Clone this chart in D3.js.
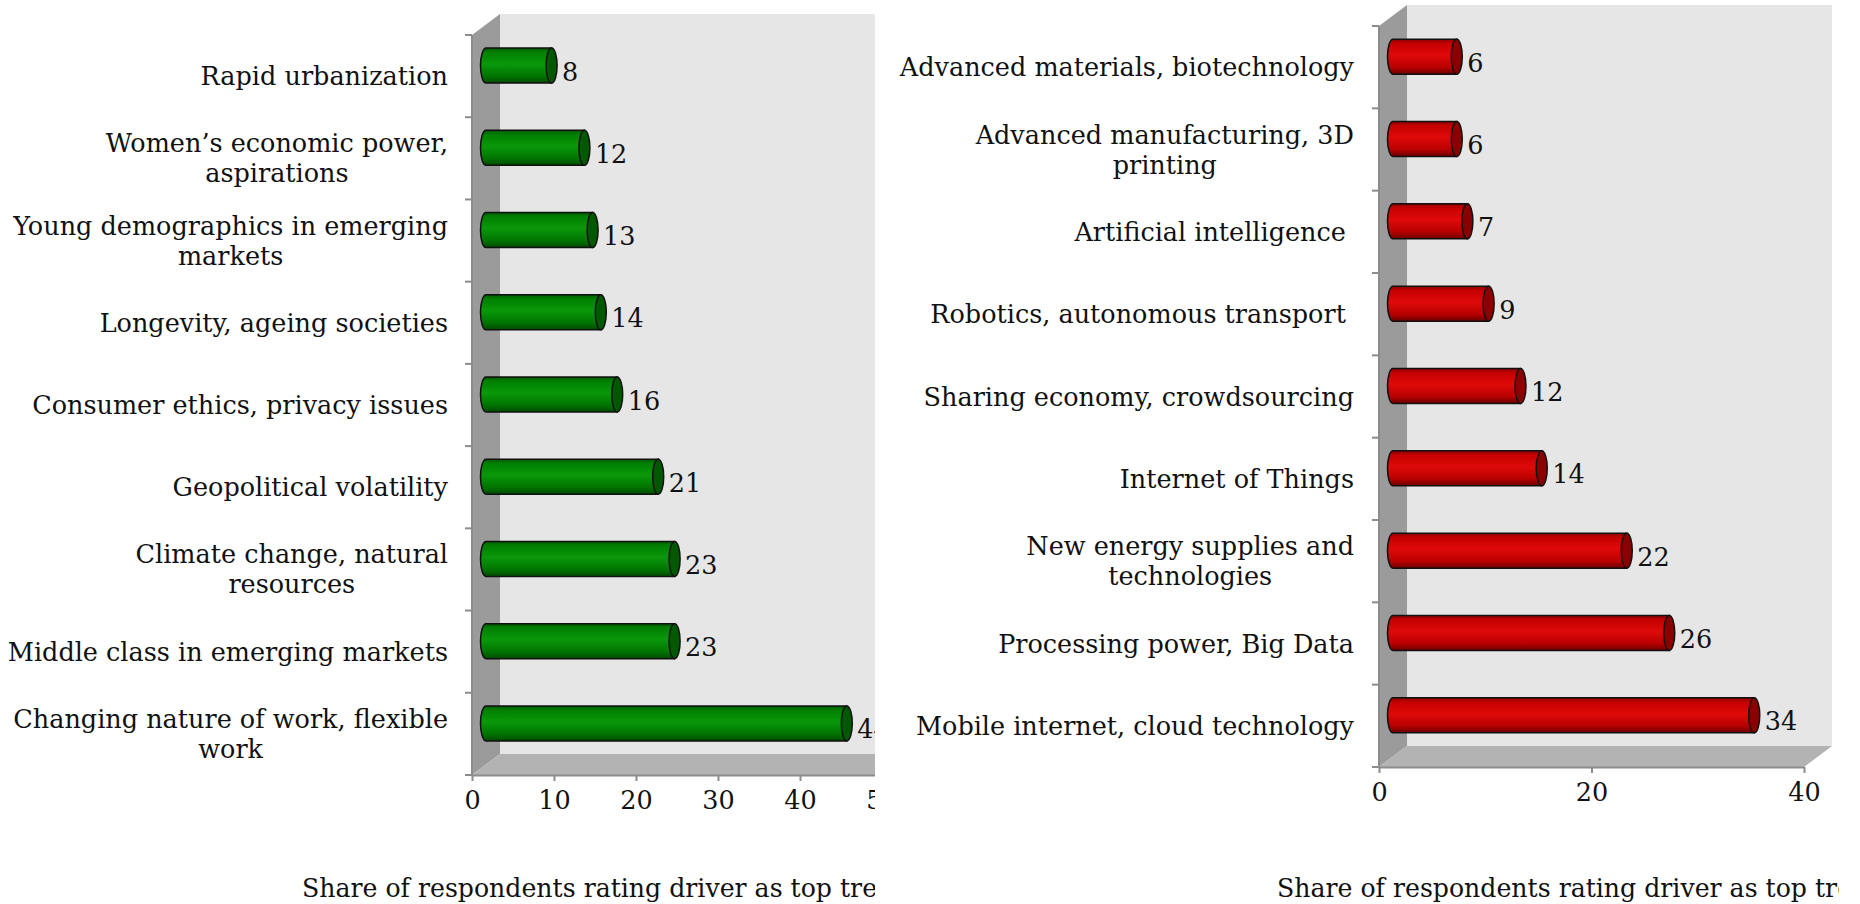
<!DOCTYPE html>
<html>
<head>
<meta charset="utf-8">
<script src="https://cdn.jsdelivr.net/npm/d3@7"></script>
<style>
  html, body { margin: 0; padding: 0; background: #ffffff; }
  svg { display: block; }
  text { font-family: "DejaVu Serif", serif; fill: #111; }
</style>
</head>
<body>
<svg id="chart" width="1860" height="904"></svg>
<script>
// ---------- data ----------
const leftCategories = [
  "Rapid urbanization",
  "Women’s economic power,\naspirations",
  "Young demographics in emerging\nmarkets",
  "Longevity, ageing societies",
  "Consumer ethics, privacy issues",
  "Geopolitical volatility",
  "Climate change, natural\nresources",
  "Middle class in emerging markets",
  "Changing nature of work, flexible\nwork"
];
const leftValues = [8, 12, 13, 14, 16, 21, 23, 23, 44];
const leftTicks = [0, 10, 20, 30, 40, 50];

const rightCategories = [
  "Advanced materials, biotechnology",
  "Advanced manufacturing, 3D\nprinting",
  "Artificial intelligence ",
  "Robotics, autonomous transport ",
  "Sharing economy, crowdsourcing",
  "Internet of Things",
  "New energy supplies and\ntechnologies",
  "Processing power, Big Data",
  "Mobile internet, cloud technology"
];
const rightValues = [6, 6, 7, 9, 12, 14, 22, 26, 34];
const rightTicks = [0, 20, 40];

const axisTitle = "Share of respondents rating driver as top trend";

// ---------- drawing ----------
const svg = d3.select("#chart");
const defs = svg.append("defs");

function makeGradient(id, stops) {
  const g = defs.append("linearGradient").attr("id", id)
    .attr("x1", 0).attr("y1", 0).attr("x2", 0).attr("y2", 1);
  stops.forEach(s => g.append("stop").attr("offset", s[0]).attr("stop-color", s[1]));
}
makeGradient("gGreen", [[0, "#005a00"], [0.12, "#007f00"], [0.45, "#0a980a"], [0.8, "#007400"], [1, "#004a00"]]);
makeGradient("gRed", [[0, "#8a0000"], [0.12, "#c40000"], [0.45, "#e00a0a"], [0.8, "#b80000"], [1, "#6a0000"]]);

const FONT = 25.5;
const TITLE_FONT = 25.2;

function drawChart(cfg) {
  const clipId = cfg.id + "clip";
  defs.append("clipPath").attr("id", clipId)
    .append("rect").attr("x", cfg.clip[0]).attr("y", 0)
    .attr("width", cfg.clip[1] - cfg.clip[0]).attr("height", 904);
  const g = svg.append("g").attr("clip-path", `url(#${clipId})`);

  const x = d3.scaleLinear().domain(cfg.domain).range(cfg.xRange);
  const y = d3.scaleBand().domain(cfg.categories).range(cfg.yRange);
  const dx = 28, dy = -21;
  const [x0, x1] = x.range();
  const [yTop, yBot] = y.range();

  // back wall
  g.append("rect").attr("x", x0 + dx).attr("y", yTop + dy)
    .attr("width", x1 - x0).attr("height", yBot - yTop).attr("fill", "#e6e6e6");
  // side wall
  g.append("path")
    .attr("d", `M${x0},${yTop} L${x0 + dx},${yTop + dy} L${x0 + dx},${yBot + dy} L${x0},${yBot} Z`)
    .attr("fill", "#9b9b9b");
  // floor
  g.append("path")
    .attr("d", `M${x0},${yBot} L${x0 + dx},${yBot + dy} L${x1 + dx},${yBot + dy} L${x1},${yBot} Z`)
    .attr("fill", "#b3b3b3");

  // axes
  const xAxis = g.append("g").attr("transform", `translate(0,${yBot})`)
    .call(d3.axisBottom(x).tickValues(cfg.ticks).tickSize(6).tickSizeOuter(0).tickPadding(10));
  xAxis.select(".domain").attr("stroke", "#8c8c8c").attr("stroke-width", 2);
  xAxis.selectAll(".tick line").attr("stroke", "#8c8c8c").attr("stroke-width", 2);
  xAxis.selectAll(".tick text").style("font-family", '"DejaVu Serif", serif')
    .style("font-size", FONT + "px").attr("fill", "#111");

  const yAxis = g.append("g");
  yAxis.append("line").attr("x1", x0).attr("x2", x0).attr("y1", yTop).attr("y2", yBot)
    .attr("stroke", "#8c8c8c").attr("stroke-width", 2);
  const bounds = cfg.categories.map(c => y(c)).concat([yBot]);
  yAxis.selectAll(".yt").data(bounds).join("line")
    .attr("x1", x0 - 7).attr("x2", x0).attr("y1", d => d).attr("y2", d => d)
    .attr("stroke", "#8c8c8c").attr("stroke-width", 2);

  // bars (cylinders)
  const h = 35, rx = 5.5, ry = h / 2;
  const bars = g.append("g").selectAll("g").data(cfg.values).join("g");
  bars.each(function (v, i) {
    const cy = y(cfg.categories[i]) + y.bandwidth() / 2 + dy / 2;
    const xs = x(0) + dx / 2, xe = x(v) + dx / 2;
    const sel = d3.select(this);
    sel.append("path")
      .attr("d", `M${xs},${cy - ry} L${xe},${cy - ry} L${xe},${cy + ry} L${xs},${cy + ry} A${rx},${ry} 0 0 1 ${xs},${cy - ry} Z`)
      .attr("fill", `url(#${cfg.grad})`).attr("stroke", "#111").attr("stroke-width", 1.5);
    sel.append("ellipse").attr("cx", xe).attr("cy", cy).attr("rx", rx).attr("ry", ry)
      .attr("fill", cfg.capColor).attr("stroke", "#111").attr("stroke-width", 1.5);
    sel.append("text").attr("x", xe + rx + 5).attr("y", cy + 6)
      .attr("dominant-baseline", "central").style("font-size", FONT + "px").text(v);
  });

  // category labels
  const lab = g.append("g");
  cfg.categories.forEach(c => {
    const lines = c.split("\n");
    const cyc = y(c) + y.bandwidth() / 2;
    const lh = 30;
    const tg = lab.append("g");
    const texts = lines.map((ln, k) => tg.append("text")
      .attr("y", cyc + (k - (lines.length - 1) / 2) * lh)
      .attr("dominant-baseline", "central")
      .attr("text-anchor", "middle")
      .style("font-size", FONT + "px").style("white-space", "pre").text(ln));
    const w = d3.max(texts, t => t.node().getComputedTextLength());
    texts.forEach(t => t.attr("x", cfg.labelRight - w / 2));
  });

  // axis title
  g.append("text").attr("x", cfg.titleX).attr("y", 897)
    .style("font-size", TITLE_FONT + "px").text(axisTitle);
}

drawChart({
  id: "L", categories: leftCategories, values: leftValues, ticks: leftTicks,
  domain: [0, 50], xRange: [472, 882], yRange: [35, 775], clip: [0, 875],
  grad: "gGreen", capColor: "#005800", labelRight: 448, titleX: 302
});
drawChart({
  id: "R", categories: rightCategories, values: rightValues, ticks: rightTicks,
  domain: [0, 40], xRange: [1379, 1804], yRange: [26, 767], clip: [876, 1839],
  grad: "gRed", capColor: "#8a0000", labelRight: 1354, titleX: 1277
});
</script>
</body>
</html>
